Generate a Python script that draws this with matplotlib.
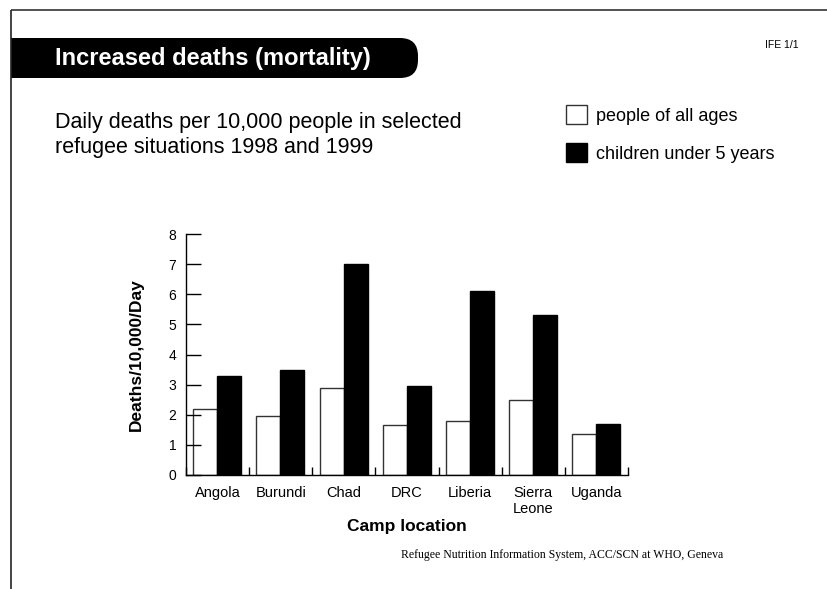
import matplotlib; matplotlib.use("Agg")
import matplotlib.pyplot as plt
from matplotlib.patches import Rectangle, FancyBboxPatch
import numpy as np

plt.rcParams['font.family'] = ['Liberation Sans', 'DejaVu Sans']

camps = ["Angola", "Burundi", "Chad", "DRC", "Liberia", "Sierra\nLeone", "Uganda"]
all_ages = [2.2, 1.95, 2.9, 1.65, 1.8, 2.5, 1.35]
under5 = [3.3, 3.5, 7.0, 2.95, 6.1, 5.3, 1.7]
yticks = list(range(0, 9))

W, H = 828, 589
fig = plt.figure(figsize=(W/100, H/100), dpi=100)

# page furniture in pixel coords
bg = fig.add_axes([0, 0, 1, 1], zorder=0)
bg.set_xlim(0, W); bg.set_ylim(H, 0); bg.axis("off")
bg.plot([11, W], [9.5, 9.5], color="#333333", lw=1.2, solid_capstyle="butt")
bg.plot([11, 11], [9.5, H], color="#222222", lw=1.2, solid_capstyle="butt")
bg.add_patch(Rectangle((11, 38), 390, 40, facecolor="black", edgecolor="none"))
bg.add_patch(FancyBboxPatch((370, 38), 48, 40, boxstyle="round,pad=0,rounding_size=18",
                            facecolor="black", edgecolor="none"))
bg.text(55, 58, "Increased deaths (mortality)", color="white", fontsize=17,
        fontweight="bold", va="center", ha="left")
bg.text(765, 45, "IFE 1/1", fontsize=7.5, va="center", ha="left")
bg.text(55, 128, "Daily deaths per 10,000 people in selected", fontsize=15.5, va="baseline")
bg.text(55, 153, "refugee situations 1998 and 1999", fontsize=15.5, va="baseline")
bg.text(401, 555, "Refugee Nutrition Information System, ACC/SCN at WHO, Geneva",
        fontsize=8.5, family=["Liberation Serif", "DejaVu Serif"], va="center", ha="left")

# chart
ax = fig.add_axes([186/W, 1-475/H, 442/W, 241/H], zorder=1)
x = np.arange(len(camps))
b1 = ax.bar(x + 0.305, all_ages, width=0.38, facecolor="white", edgecolor="#333333", lw=1.0,
            label="people of all ages")
b2 = ax.bar(x + 0.685, under5, width=0.38, facecolor="black", edgecolor="black", lw=1.0,
            label="children under 5 years")
ax.set_xlim(0, len(camps)); ax.set_ylim(0, 8)
ax.set_yticks(yticks)
ax.set_xticks(np.arange(len(camps) + 1))
ax.set_xticklabels([])
ax.set_xticks(x + 0.5, minor=True)
ax.set_xticklabels(camps, minor=True, fontsize=10.5)
ax.tick_params(axis="x", which="major", direction="in", length=6, width=1)
ax.tick_params(axis="x", which="minor", length=0, pad=8)
ax.tick_params(axis="y", direction="in", length=11, width=1, pad=7, labelsize=10)
for s in ("top", "right"):
    ax.spines[s].set_visible(False)
for s in ("left", "bottom"):
    ax.spines[s].set_linewidth(1.0)
ax.set_ylabel("Deaths/10,000/Day", fontsize=12.5, fontweight="bold", labelpad=18)
ax.set_xlabel("Camp location", fontsize=12.5, fontweight="bold", labelpad=2)

fig.legend(handles=[b1, b2], loc="upper left", bbox_to_anchor=(566/W, 1-105/H),
           frameon=False, fontsize=13, handlelength=1.17, handleheight=1.28,
           labelspacing=1.0, handletextpad=0.5, borderpad=0, borderaxespad=0)

fig.savefig("out.png", dpi=100)
